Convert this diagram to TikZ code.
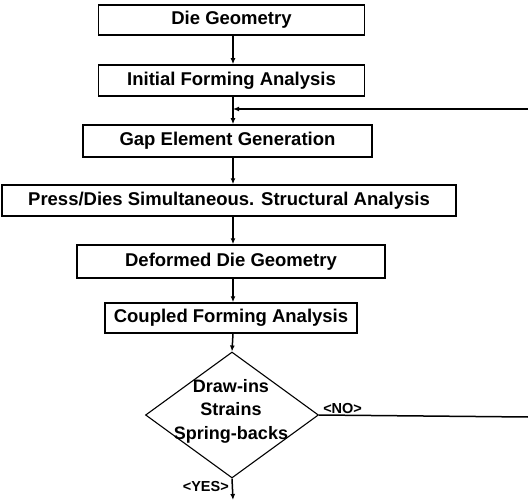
\documentclass[tikz,border=0pt]{standalone}
\usepackage{fontspec}
\setmainfont{Liberation Sans}
\usetikzlibrary{
    shapes.geometric, arrows.meta, positioning, calc
}
\tikzset{
    % Flow chart
    stepBox/.style={rectangle, draw=black, line width=1.5pt, fill=white, inner sep=0pt,
        font=\fontsize{18.5}{20}\selectfont\bfseries},
    flowArrow/.style={-{Latex[length=6pt,width=5pt]}, line width=1.5pt},
    flowLine/.style={line width=1.5pt},
    decisionBox/.style={diamond, draw=black, line width=1.1pt, inner sep=0pt,
        minimum width=173pt, minimum height=126pt},
    decisionText/.style={align=center, font=\fontsize{18}{23.5}\selectfont\bfseries},
    branchLabel/.style={font=\fontsize{14.5}{16}\selectfont\bfseries}
}

\begin{document}
\begin{tikzpicture}[x=1pt, y=-1pt]
        \useasboundingbox (0,0) rectangle (528,503);
        \coordinate (axis) at (233,0);
        \coordinate (edgeTop) at (528,109);
        \coordinate (edgeLow) at (528,417);
        \coordinate (stop) at (233,500);

        % Steps
        \node[stepBox, minimum width=266pt, minimum height=30pt] (die) at (231.5,20) {Die Geometry};
        \node[stepBox, minimum width=266pt, minimum height=31pt] (init) at (231.5,80.5) {Initial Forming Analysis};
        \node[stepBox, minimum width=289pt, minimum height=32pt] (gap) at (227.5,141) {Gap Element Generation};
        \node[stepBox, minimum width=454pt, minimum height=31pt] (press) at (229,200.5) {Press/Dies Simultaneous. Structural Analysis};
        \node[stepBox, minimum width=308pt, minimum height=33pt] (deformed) at (231,261.5) {Deformed Die Geometry};
        \node[stepBox, minimum width=252pt, minimum height=30pt] (coupled) at (231,318) {Coupled Forming Analysis};

        % Decision
        \node[decisionBox] (check) at (232,415) {};
        \node[decisionText] (checkText) at (231,411) {Draw-ins\\Strains\\Spring-backs};

        % Connectors
        \draw[flowArrow] (die.south -| axis) -- (init.north -| axis);
        \draw[flowArrow] (init.south -| axis) -- (gap.north -| axis);
        \draw[flowArrow] (edgeTop) -- (edgeTop -| axis);
        \draw[flowArrow] (gap.south -| axis) -- (press.north -| axis);
        \draw[flowArrow] (press.south -| axis) -- (deformed.north -| axis);
        \draw[flowArrow] (deformed.south -| axis) -- (coupled.north -| axis);
        \draw[flowArrow] (coupled.south -| axis) -- (check.north);
        \draw[flowLine] (check.east) -- (edgeLow);
        \draw[flowArrow] (check.south) -- (stop);

        % Branch labels
        \node[branchLabel, anchor=south west, inner sep=1pt] (noLabel) at ([xshift=3pt]check.east) {<NO>};
        \node[branchLabel, anchor=east, inner sep=1pt] (yesLabel) at (230,487) {<YES>};
\end{tikzpicture}
\end{document}
